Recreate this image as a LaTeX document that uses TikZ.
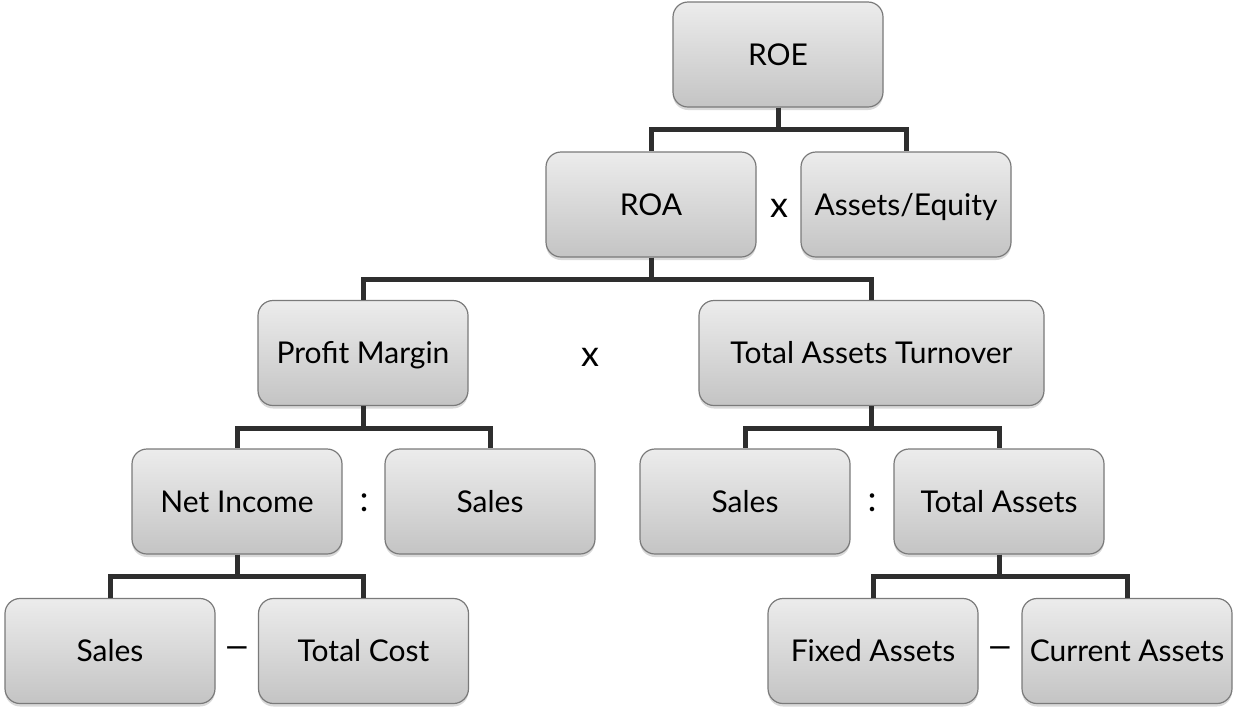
\documentclass[tikz,border=0pt]{standalone}
\usepackage{fontspec}
\setmainfont{Lato}
\usetikzlibrary{shadows}
\definecolor{boxtop}{HTML}{ECECEC}
\definecolor{boxbot}{HTML}{C4C4C4}
\definecolor{boxline}{HTML}{7A7A7A}
\definecolor{linkgray}{HTML}{2E2E2E}
\tikzset{
  ratio/.style={rectangle, rounded corners=7.5pt, draw=boxline, line width=0.6pt,
    top color=boxtop, bottom color=boxbot, minimum width=105pt, minimum height=52.5pt,
    inner sep=0pt, text height=10.8pt, text depth=0pt, font=\fontsize{15}{18}\selectfont,
    drop shadow={opacity=0.3, shadow xshift=0pt, shadow yshift=-1.5pt}},
  link/.style={linkgray, line width=2.5pt},
  op/.style={font=\fontsize{18}{21}\selectfont, inner sep=0pt}
}
\begin{document}
\begin{tikzpicture}[x=0.5pt, y=-0.5pt]
\useasboundingbox (0,0) rectangle (1236,708);

\node[ratio] (roe) at (778,54.5) {ROE};
\node[ratio] (roa) at (651,204.5) {ROA};
\node[ratio] (ae) at (906,204.5) {Assets/Equity};
\node[ratio] (pm) at (363,353) {Profit Margin};
\node[ratio, minimum width=172.5pt] (tat) at (871.5,353) {Total Assets Turnover};
\node[ratio] (ni) at (237,501.5) {Net Income};
\node[ratio] (salesa) at (490,501.5) {Sales};
\node[ratio] (salesb) at (745,501.5) {Sales};
\node[ratio] (ta) at (999,501.5) {Total Assets};
\node[ratio] (salesc) at (110,651) {Sales};
\node[ratio] (tc) at (363.5,651) {Total Cost};
\node[ratio] (fa) at (873,651) {Fixed Assets};
\node[ratio] (ca) at (1127,651) {Current Assets};

\node[op] (timesa) at (779,208) {x};
\node[op] (timesb) at (590,357) {x};
\node[op] (diva) at (364,503) {:};
\node[op] (divb) at (872,503) {:};
\node[op, xscale=1.35] (minusa) at (237,653) {--};
\node[op, xscale=1.35] (minusb) at (1000,653) {--};

\draw[link] (roe.south) -- ++(0,22) -| (roa.north);
\draw[link] (roe.south) -- ++(0,22) -| (ae.north);
\draw[link] (roa.south) -- ++(0,22) -| (pm.north);
\draw[link] (roa.south) -- ++(0,22) -| (tat.north);
\draw[link] (pm.south) -- ++(0,22) -| (ni.north);
\draw[link] (pm.south) -- ++(0,22) -| (salesa.north);
\draw[link] (tat.south) -- ++(0,22) -| (salesb.north);
\draw[link] (tat.south) -- ++(0,22) -| (ta.north);
\draw[link] (ni.south) -- ++(0,22) -| (salesc.north);
\draw[link] (ni.south) -- ++(0,22) -| (tc.north);
\draw[link] (ta.south) -- ++(0,22) -| (fa.north);
\draw[link] (ta.south) -- ++(0,22) -| (ca.north);
\end{tikzpicture}
\end{document}
